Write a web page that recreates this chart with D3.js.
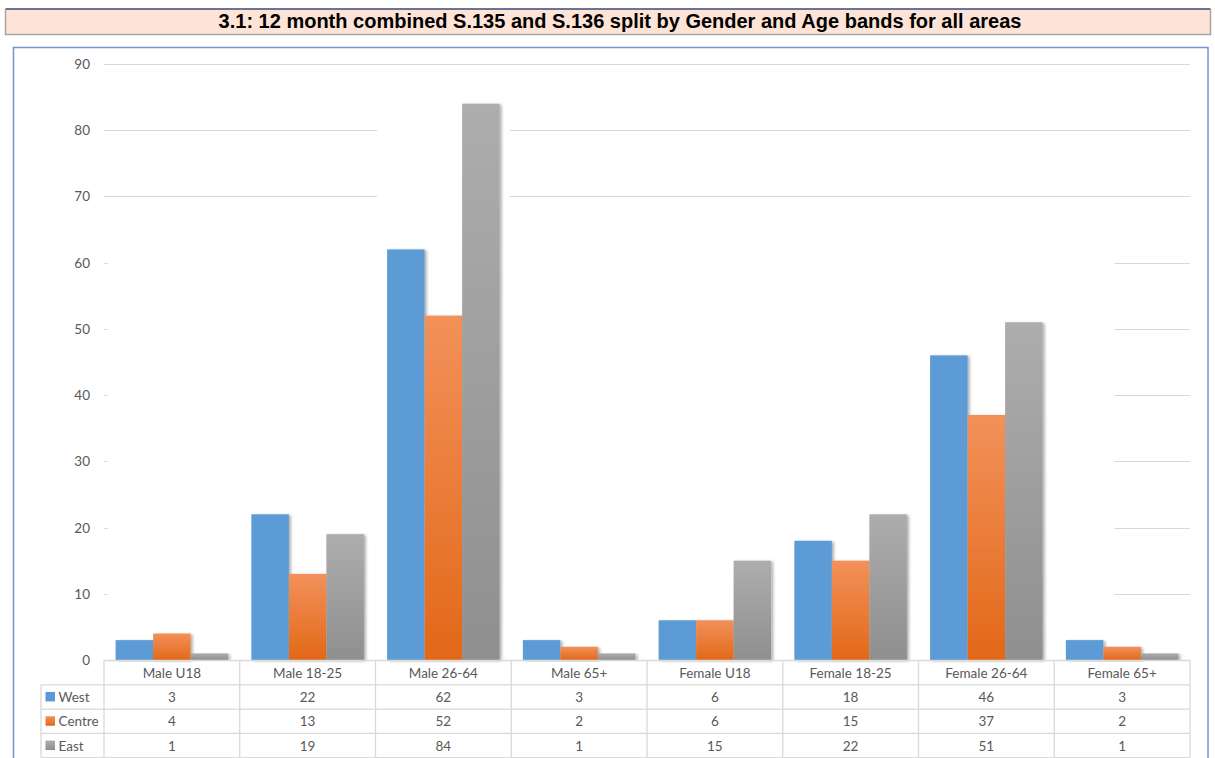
<!DOCTYPE html>
<html>
<head>
<meta charset="utf-8">
<script src="https://cdn.jsdelivr.net/npm/d3@7"></script>
<style>
  html, body { margin: 0; padding: 0; background: #ffffff; }
  svg { display: block; }
</style>
</head>
<body>
<svg id="chart" width="1215" height="758"></svg>
<script>
// Categories, series and values
const categories = ["Male U18", "Male 18-25", "Male 26-64", "Male 65+",
                    "Female U18", "Female 18-25", "Female 26-64", "Female 65+"];
const seriesNames = ["West", "Centre", "East"];
const west   = [3, 22, 62, 3, 6, 18, 46, 3];
const centre = [4, 13, 52, 2, 6, 15, 37, 2];
const east   = [1, 19, 84, 1, 15, 22, 51, 1];
const yTicks = [0, 10, 20, 30, 40, 50, 60, 70, 80, 90];
const titleText = "3.1: 12 month combined S.135 and S.136 split by Gender and Age bands for all areas";

const seriesValues = [west, centre, east];

const svg = d3.select("#chart");
const font = "Lato, 'Noto Sans', sans-serif";
const textGrey = "#595959";
const lineGrey = "#d9d9d9";

// Gradients and shadow for the bars
const defs = svg.append("defs");
const gradSpec = [
  { id: "g-west",   top: "#5b9bd5", bottom: "#5b9bd5" },
  { id: "g-centre", top: "#f2915a", bottom: "#e26818" },
  { id: "g-east",   top: "#adadad", bottom: "#8f8f8f" }
];
gradSpec.forEach(g => {
  const lg = defs.append("linearGradient").attr("id", g.id)
    .attr("x1", 0).attr("y1", 0).attr("x2", 0).attr("y2", 1);
  lg.append("stop").attr("offset", "0%").attr("stop-color", g.top);
  lg.append("stop").attr("offset", "100%").attr("stop-color", g.bottom);
});
const f = defs.append("filter").attr("id", "barShadow")
  .attr("x", "-20%").attr("y", "-5%").attr("width", "150%").attr("height", "115%");
f.append("feDropShadow").attr("dx", 2).attr("dy", 1).attr("stdDeviation", 1.4)
  .attr("flood-color", "#000").attr("flood-opacity", 0.32);

const legendFill = ["#5b9bd5", "#ed7d31", "#a5a5a5"];

// Title banner
svg.append("rect").attr("x", 5.5).attr("y", 9).attr("width", 1205).attr("height", 25.5)
  .attr("fill", "#fde4d6").attr("stroke", "#a6a6a6").attr("stroke-width", 1.5);
svg.append("line").attr("x1", 6).attr("x2", 1210).attr("y1", 9).attr("y2", 9)
  .attr("stroke", "#1f2a7a").attr("stroke-width", 1.2);
svg.append("text").attr("x", 620).attr("y", 28)
  .attr("text-anchor", "middle")
  .attr("font-family", "'Liberation Sans', Arial, sans-serif")
  .attr("font-weight", "bold").attr("font-size", 20)
  .attr("fill", "#000")
  .text(titleText);

// Chart frame
svg.append("rect").attr("x", 13.5).attr("y", 47.5).attr("width", 1194.5).attr("height", 730)
  .attr("fill", "#ffffff").attr("stroke", "#7094d6").attr("stroke-width", 1.5);

// Scales
const x = d3.scaleBand().domain(categories).range([104, 1190]).padding(0);
const y = d3.scaleLinear().domain([0, 90]).range([660, 64]);
const inner = d3.scaleBand().domain(seriesNames)
  .range([x.bandwidth() * 0.0856, x.bandwidth() * (1 - 0.0856)]).padding(0);

// Gridlines
const grid = svg.append("g");
grid.selectAll("line").data(yTicks.filter(d => d > 0)).join("line")
  .attr("x1", 104).attr("x2", 1190)
  .attr("y1", d => Math.round(y(d)) + 0.5).attr("y2", d => Math.round(y(d)) + 0.5)
  .attr("stroke", lineGrey).attr("stroke-width", 1.2);

// White backing behind the bar region (hides gridlines behind the columns)
const backTop = y(d3.max(west.concat(centre)) + 1.5);
const backRight = x(categories[7]) + inner("Centre") + inner.bandwidth() * 0.3;
svg.append("rect")
  .attr("x", x.range()[0] + 4)
  .attr("y", backTop)
  .attr("width", backRight - 4 - x.range()[0])
  .attr("height", y(0) - backTop)
  .attr("fill", "#ffffff");
const tallIdx = d3.maxIndex(east);
const tallTop = y(east[tallIdx]) - 2;
svg.append("rect")
  .attr("x", x(categories[tallIdx]) + inner("West") - 10)
  .attr("y", tallTop)
  .attr("width", inner.bandwidth() * 3 + 20)
  .attr("height", y(0) - tallTop)
  .attr("fill", "#ffffff");

// Y axis labels
svg.append("g").selectAll("text").data(yTicks).join("text")
  .attr("x", 90).attr("y", d => y(d) + 5)
  .attr("text-anchor", "end")
  .attr("font-family", font).attr("font-size", 13.5).attr("fill", textGrey)
  .text(d => d);

// Bars
const barData = [];
seriesNames.forEach((s, si) => {
  categories.forEach((c, ci) => barData.push({ s, si, c, v: seriesValues[si][ci] }));
});
svg.append("g").selectAll("rect").data(barData).join("rect")
  .attr("x", d => x(d.c) + inner(d.s))
  .attr("y", d => y(d.v))
  .attr("width", inner.bandwidth())
  .attr("height", d => y(0) - y(d.v))
  .attr("fill", d => `url(#${gradSpec[d.si].id})`)
  .attr("filter", "url(#barShadow)");

// Data table beneath the axis
const rowH = 24.3;
const tableTop = 660.5;
const legendLeft = 41;
const table = svg.append("g");
// header row cells (category names)
table.append("line").attr("x1", 104).attr("x2", 1190).attr("y1", tableTop).attr("y2", tableTop)
  .attr("stroke", lineGrey).attr("stroke-width", 1.3);
for (let r = 1; r <= 4; r++) {
  table.append("line").attr("x1", legendLeft).attr("x2", 1190)
    .attr("y1", tableTop + r * rowH).attr("y2", tableTop + r * rowH)
    .attr("stroke", lineGrey).attr("stroke-width", 1.3);
}
// vertical lines
const colEdges = categories.map(c => x(c)).concat([x.range()[1]]);
table.selectAll("line.v").data(colEdges).join("line").attr("class", "v")
  .attr("x1", d => d).attr("x2", d => d)
  .attr("y1", tableTop).attr("y2", tableTop + 4 * rowH)
  .attr("stroke", lineGrey).attr("stroke-width", 1.3);
table.append("line").attr("x1", legendLeft).attr("x2", legendLeft)
  .attr("y1", tableTop + rowH).attr("y2", tableTop + 4 * rowH)
  .attr("stroke", lineGrey).attr("stroke-width", 1.3);

// header text
table.selectAll("text.h").data(categories).join("text").attr("class", "h")
  .attr("x", d => x(d) + x.bandwidth() / 2)
  .attr("y", tableTop + rowH / 2 + 5)
  .attr("text-anchor", "middle")
  .attr("font-family", font).attr("font-size", 13.5).attr("fill", textGrey)
  .text(d => d);

// value rows with legend keys
seriesNames.forEach((s, si) => {
  const cy = tableTop + (si + 1) * rowH + rowH / 2;
  table.append("rect").attr("x", 45.5).attr("y", cy - 5).attr("width", 9.5).attr("height", 9.5)
    .attr("fill", si === 0 ? legendFill[0] : `url(#${gradSpec[si].id})`);
  table.append("text").attr("x", 58.5).attr("y", cy + 5)
    .attr("font-family", font).attr("font-size", 13.5).attr("fill", textGrey)
    .text(s);
  table.selectAll(`text.v${si}`).data(seriesValues[si]).join("text").attr("class", `v${si}`)
    .attr("x", (d, i) => x(categories[i]) + x.bandwidth() / 2)
    .attr("y", cy + 5)
    .attr("text-anchor", "middle")
    .attr("font-family", font).attr("font-size", 13.5).attr("fill", textGrey)
    .text(d => d);
});
</script>
</body>
</html>
